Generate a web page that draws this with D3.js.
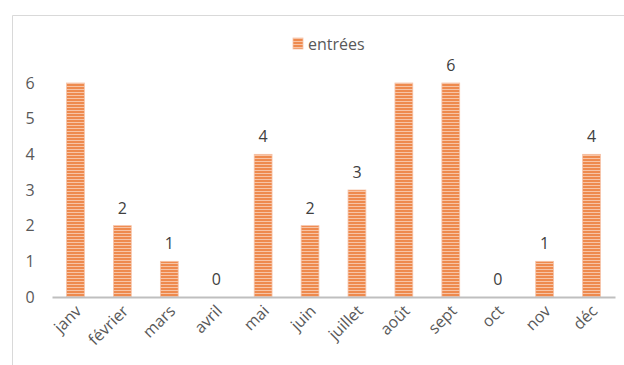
<!DOCTYPE html>
<html><head><meta charset="utf-8">
<script src="https://cdn.jsdelivr.net/npm/d3@7"></script>
<style>body{margin:0;background:#fff}svg{display:block}</style>
</head><body>
<script>
const months = ["janv","février","mars","avril","mai","juin","juillet","août","sept","oct","nov","déc"];
const entrees = [6,2,1,0,4,2,3,6,6,0,1,4];
const showLabel = [false,true,true,true,true,true,true,false,true,true,true,true];
const yTicks = [0,1,2,3,4,5,6];
const seriesName = "entrées";

const W=624,H=365;
const svg=d3.select("body").append("svg").attr("width",W).attr("height",H);
const font="'Open Sans', 'Liberation Sans', sans-serif";
const fs=16;

const defs=svg.append("defs");
const pat=defs.append("pattern").attr("id","stripes").attr("patternUnits","userSpaceOnUse")
  .attr("width",6).attr("height",3);
pat.append("rect").attr("width",6).attr("height",3).attr("fill","#F7C4A6");
pat.append("rect").attr("width",6).attr("height",2).attr("fill","#EE8A4E");

// chart frame
svg.append("path").attr("d",`M12.5,${H} V15.5 H${W}`).attr("fill","none").attr("stroke","#D9D9D9").attr("stroke-width",1);

const x=d3.scaleBand().domain(months).range([52,615]).paddingInner(0.62).paddingOuter(0.31);
const y=d3.scaleLinear().domain([0,6]).range([297,83]);

// y axis labels
const ya=svg.append("g").attr("transform","translate(36,0)")
  .call(d3.axisLeft(y).tickValues(yTicks).tickSize(0).tickPadding(0).tickFormat(d3.format("d")));
ya.select(".domain").remove();
ya.selectAll("text").attr("font-family",font).attr("font-size",fs).attr("fill","#595959").attr("text-anchor","middle").attr("x",-6);

// bars
svg.selectAll(".bar").data(entrees).join("rect").attr("class","bar")
  .attr("x",(d,i)=>x(months[i])).attr("width",x.bandwidth())
  .attr("y",d=>y(d)).attr("height",d=>y(0)-y(d))
  .attr("fill","url(#stripes)").attr("stroke","#F6C3A8").attr("stroke-width",0.8);

// x axis
const xa=svg.append("g").attr("transform",`translate(0,${y(0)})`)
  .call(d3.axisBottom(x).tickSize(0).tickPadding(0));
xa.select(".domain").attr("stroke","#BFBFBF").attr("stroke-width",2);
xa.selectAll("text").attr("font-family",font).attr("font-size",fs).attr("fill","#595959")
  .attr("text-anchor","end").attr("dy",0)
  .attr("transform","translate(7,15) rotate(-45)");

// data labels
svg.selectAll(".lbl").data(entrees.map((v,i)=>({v,i})).filter(d=>showLabel[d.i])).join("text").attr("class","lbl")
  .attr("x",d=>x(months[d.i])+x.bandwidth()/2).attr("y",d=>y(d.v)-12)
  .attr("text-anchor","middle").attr("font-family",font).attr("font-size",fs).attr("fill","#404040")
  .text(d=>d.v);

// legend
const lg=svg.append("g");
lg.append("rect").attr("x",293).attr("y",38).attr("width",10).attr("height",11).attr("fill","url(#stripes)").attr("stroke","#F6C3A8").attr("stroke-width",0.8);
lg.append("text").attr("x",308).attr("y",49.5).attr("font-family",font).attr("font-size",fs).attr("fill","#595959").text(seriesName);
</script>
</body></html>
